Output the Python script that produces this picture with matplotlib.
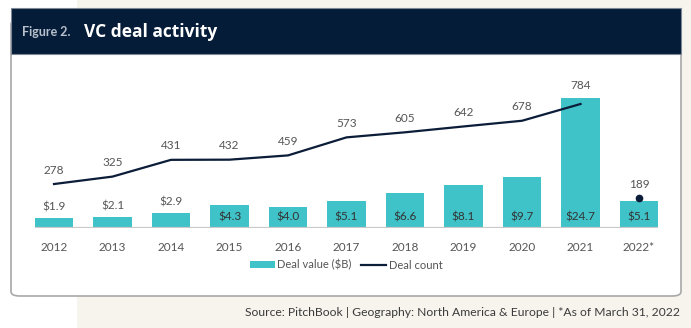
import matplotlib
matplotlib.use("Agg")
import matplotlib.pyplot as plt
from matplotlib import font_manager
from matplotlib.patches import Rectangle, FancyBboxPatch, Patch
from matplotlib.lines import Line2D

years = ["2012", "2013", "2014", "2015", "2016", "2017", "2018", "2019", "2020", "2021", "2022*"]
deal_value = [1.9, 2.1, 2.9, 4.3, 4.0, 5.1, 6.6, 8.1, 9.7, 24.7, 5.1]
deal_count = [278, 325, 431, 432, 459, 573, 605, 642, 678, 784, 189]
value_labels = ["$1.9", "$2.1", "$2.9", "$4.3", "$4.0", "$5.1", "$6.6", "$8.1", "$9.7", "$24.7", "$5.1"]

TEAL = "#3FC2C8"
NAVY = "#0B1D38"
HEADER = "#051C38"
CREAM = "#F7F4EE"
GREY_TXT = "#555555"

available = {f.name for f in font_manager.fontManager.ttflist}
body = "Lato" if "Lato" in available else "Liberation Sans"
plt.rcParams["font.family"] = [body, "DejaVu Sans"]

W, H = 691, 328
fig = plt.figure(figsize=(W / 100, H / 100), dpi=100)
fig.patch.set_facecolor("white")


def fx(px):
    return px / W


def fy(py):
    return 1 - py / H


# page background
fig.patches.append(Rectangle((fx(77), 0), 1 - fx(77), 1, transform=fig.transFigure,
                             facecolor=CREAM, edgecolor="none", zorder=0))
# card
fig.patches.append(FancyBboxPatch((fx(11), fy(296)), fx(681) - fx(11), fy(20) - fy(296),
                                  boxstyle="round,pad=0,rounding_size=0.013",
                                  transform=fig.transFigure, facecolor="white",
                                  edgecolor="#A8A8A8", linewidth=1.2, zorder=1))
# header bar
fig.patches.append(Rectangle((fx(11), fy(54)), fx(681) - fx(11), fy(8) - fy(54),
                             transform=fig.transFigure, facecolor=HEADER,
                             edgecolor="#7E8794", linewidth=0.8, zorder=2))
fig.text(fx(22), fy(32), "Figure 2.", color="#B8C0CC", fontsize=9, fontweight="bold",
         va="center", ha="left", zorder=3)
fig.text(fx(84), fy(32), "VC deal activity", color="white", fontsize=12.5, fontweight="bold",
         family=["Open Sans", "DejaVu Sans"], va="center", ha="left", zorder=3)

fig.text(fx(680), fy(313), "Source: PitchBook | Geography: North America & Europe | *As of March 31, 2022",
         color="#3A3A3A", fontsize=8.7, ha="right", va="center", zorder=3)

# chart area
left, right, base, top = 35, 658, 228, 90
ax = fig.add_axes([fx(left), fy(base), fx(right) - fx(left), (base - top) / H], zorder=4)
ax.patch.set_alpha(0)
x = list(range(len(years)))
bw = 0.65
ax.bar(x, deal_value, width=bw, color=TEAL, edgecolor="none", zorder=2)
ax.set_xlim(-bw / 2, len(years) - 1 + bw / 2)
vmax = 24.7 * (base - top) / 130
ax.set_ylim(0, vmax)
ax.axhline(0, color="#C9C9C9", linewidth=1.6, zorder=3)
for s in ax.spines.values():
    s.set_visible(False)
ax.set_yticks([])
ax.set_xticks(x)
ax.set_xticklabels(years, fontsize=8.5, color=GREY_TXT)
ax.tick_params(axis="x", length=0, pad=10)

px_per_val = (base - top) / vmax
for i, (v, lab) in enumerate(zip(deal_value, value_labels)):
    if v * px_per_val < 20:
        ax.annotate(lab, (i, v), xytext=(0, 4), textcoords="offset points",
                    ha="center", va="bottom", fontsize=8.5, color=GREY_TXT, zorder=5)
    else:
        ax.annotate(lab, (i, 0), xytext=(0, 8), textcoords="offset points",
                    ha="center", va="center", fontsize=8.5, color="#333333", zorder=5)

ax2 = ax.twinx()
ax2.set_zorder(5)
ax2.patch.set_alpha(0)
cmax = 784 * (base - top) / 124
ax2.set_ylim(0, cmax)
ax2.set_yticks([])
for s in ax2.spines.values():
    s.set_visible(False)
ax2.plot(x[:-1], deal_count[:-1], color=NAVY, linewidth=1.6, zorder=4)
ax2.plot([x[-1]], [deal_count[-1]], "o", color=NAVY, markersize=4.5, zorder=4)
for i, c in enumerate(deal_count):
    if i == 9:
        yv = max(c, deal_value[i] * cmax / vmax)
        off = 9
    else:
        yv = c
        off = 10
    ax2.annotate(str(c), (i, yv), xytext=(0, off), textcoords="offset points",
                 ha="center", va="center", fontsize=8.5, color=GREY_TXT)

handles = [Patch(facecolor=TEAL, edgecolor="none"), Line2D([], [], color=NAVY, linewidth=1.6)]
fig.legend(handles, ["Deal value ($B)", "Deal count"], loc="center",
           bbox_to_anchor=(fx(346), fy(265)), ncol=2, frameon=False, fontsize=8,
           handlelength=2.3, handleheight=0.55, handletextpad=0.2, columnspacing=0.8,
           labelcolor=GREY_TXT)

fig.savefig("out.png", dpi=100, facecolor=fig.get_facecolor())
